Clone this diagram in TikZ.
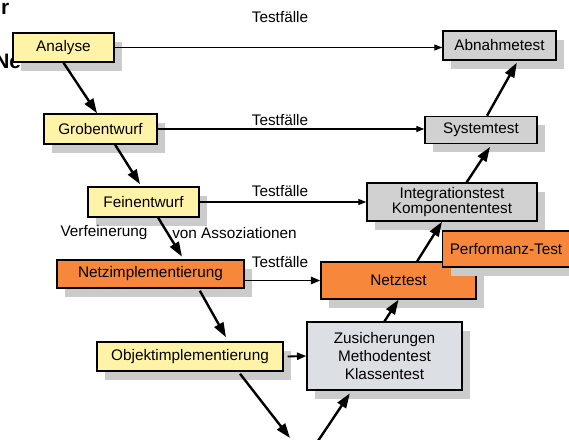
\documentclass[tikz,border=0pt]{standalone}
\usepackage{fontspec}
\setmainfont{Liberation Sans}
\usetikzlibrary{shadows,arrows.meta}
\definecolor{entwurf}{HTML}{FFF3A8}
\definecolor{netz}{HTML}{F7883B}
\definecolor{testgrau}{HTML}{D1D1D1}
\definecolor{klassgrau}{HTML}{DCDFE3}
\definecolor{schatten}{HTML}{CBCBCB}

\begin{document}
\begin{tikzpicture}[x=0.75pt,y=-0.75pt,
    every node/.style={font=\fontsize{11.5}{13.5}\selectfont},
    box/.style={draw,line width=1.1pt,inner sep=0pt,align=center,
      drop shadow={shadow xshift=6pt,shadow yshift=-6.5pt,fill=schatten,opacity=1}},
    sz/.style 2 args={minimum width=#1*0.75pt,minimum height=#2*0.75pt},
    phase/.style={box,fill=entwurf},
    netzbox/.style={box,fill=netz},
    testbox/.style={box,fill=testgrau},
    flow/.style={line width=1.8pt,-{Triangle[length=11pt,width=7.5pt]}},
    tf/.style={line width=0.9pt,-{Triangle[length=6pt,width=4.5pt]}},
    tfdick/.style={line width=1.4pt,-{Triangle[length=7pt,width=5.5pt]}}]
	\useasboundingbox (0,0) rectangle (569,440);
	
	% Reste vom Folienrand
	\node[anchor=base east,inner sep=0pt,font=\fontsize{15.7}{18}\selectfont\bfseries] (rand1) at (9.5,14) {für};
	\node[anchor=base west,inner sep=0pt,font=\fontsize{15.7}{18}\selectfont\bfseries] (rand2) at (-6,68) {Netz};
	
	% linker Ast
	\node[phase,sz={101}{29}] (analyse) at (63.5,47.5) {Analyse};
	\node[phase,sz={113}{30}] (grob) at (100.5,129) {Grobentwurf};
	\node[phase,sz={111}{30}] (fein) at (143.5,202) {Feinentwurf};
	\node[netzbox,sz={187}{28}] (netzimpl) at (150.5,274) {Netzimplementierung};
	\node[phase,sz={186}{29}] (objimpl) at (190,356.5) {Objektimplementierung};
	
	% rechter Ast
	\node[testbox,sz={113}{29}] (abnahme) at (499.5,45.5) {Abnahmetest};
	\node[testbox,sz={112}{27}] (system) at (481,130) {Systemtest};
	\node[testbox,sz={170}{38}] (integ) at (452,202) {Integrationstest\\[-2.5pt]Komponententest};
	\node[netzbox,sz={155}{37}] (netztest) at (398.5,280.5) {Netztest};
	\node[netzbox,sz={127}{36}] (perf) at (506,249) {Performanz-Test};
	\node[box,fill=klassgrau,sz={155}{68}] (zusich) at (384.5,356) {Zusicherungen\\Methodentest\\Klassentest};
	
	\coordinate (cutl) at (290,438);
	\coordinate (cutr) at (318,441);
	
	% Texte
	\node (tf1) at (280,17) {Testfälle};
	\node (tf2) at (280,120) {Testfälle};
	\node (tf3) at (280,191) {Testfälle};
	\node (tf4) at (280,262) {Testfälle};
	\node (verf) at (104,233) {Verfeinerung};
	\node (assoz) at (234.5,233) {von Assoziationen};
	
	% Testfaelle
	\draw[tf] (analyse.east) -- (analyse.east -| abnahme.west);
	\draw[tf] (grob.east) -- (grob.east -| system.west);
	\draw[tf] (fein.east) -- (integ.west);
	\draw[tfdick] (netzimpl.east |- netztest.west) -- (netztest.west);
	\draw[tfdick] ([xshift=3pt]objimpl.east) -- (zusich.west);
	
	% V
	\draw[flow] (analyse.south) -- ([xshift=-2.6pt]grob.north);
	\draw[flow] ([xshift=11pt]grob.south) -- ([xshift=-2.6pt,yshift=1.5pt]fein.north);
	\draw[flow] ([xshift=11pt]fein.south) -- ([xshift=23.6pt,yshift=2pt]netzimpl.north);
	\draw[flow] ([xshift=37pt,yshift=-1.5pt]netzimpl.south) -- ([xshift=27pt,yshift=3pt]objimpl.north);
	\draw[flow] ([xshift=37.5pt,yshift=-1.5pt]objimpl.south) -- (cutl);
	\draw[flow] (cutr) -- ([xshift=-26pt,yshift=-2pt]zusich.south);
	\draw[flow] (zusich.north) -- (netztest.south);
	\draw[flow] ([xshift=14pt]netztest.north) -- ([xshift=-7.5pt]integ.south);
	\draw[flow] ([xshift=11pt]integ.north) -- ([xshift=6.8pt,yshift=-2pt]system.south);
	\draw[flow] ([xshift=4.5pt]system.north) -- ([xshift=13pt,yshift=-1.5pt]abnahme.south);
\end{tikzpicture}
\end{document}
